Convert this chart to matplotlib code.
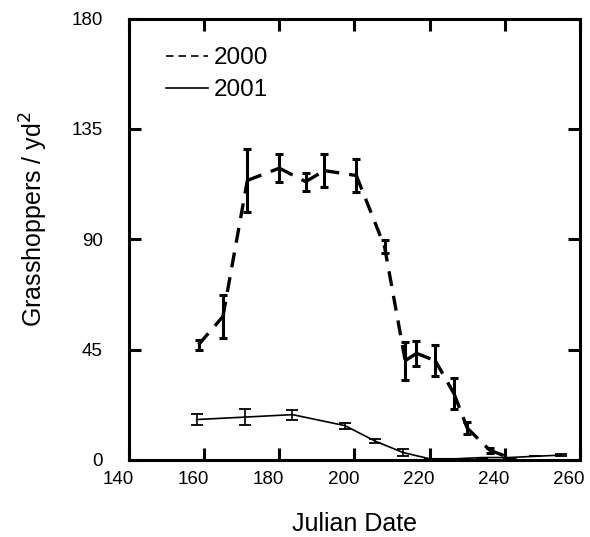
import matplotlib
matplotlib.use("Agg")
import matplotlib.pyplot as plt
import matplotlib.transforms as mtransforms
from matplotlib.lines import Line2D

plt.rcParams['font.family'] = ['Liberation Sans', 'DejaVu Sans']

# 2000 season (dashed, heavy)
days_2000 = [158.5, 165, 171.5, 180, 187, 192, 200.5, 208, 213.5, 216.5, 221.5, 226.5, 230, 236, 242]
hoppers_2000 = [47, 58.5, 114, 119, 113.5, 118, 116, 87, 40.5, 43.5, 40.5, 27, 13, 4, 0.5]
err_2000 = [2, 8.8, 13, 5.7, 3.7, 6.8, 6.8, 2.7, 7.8, 5.1, 6.4, 6.4, 2.5, 1, 0]

# 2001 season (solid, thin)
days_2001 = [158, 171, 183.5, 197.5, 205.5, 213, 220, 227, 234, 241, 248, 255]
hoppers_2001 = [16.5, 17.5, 18.5, 14, 7.7, 3, 0.5, 0.5, 1, 1, 1.5, 2]
err_2001 = [2.1, 3.1, 2.0, 1.2, 0.8, 1.5, 0, 0, 0, 0, 0, 0.5]

x_ticks = [140, 160, 180, 200, 220, 240, 260]
y_ticks = [0, 45, 90, 135, 180]

fig = plt.figure(figsize=(5.9, 5.37), dpi=100)
ax = fig.add_axes([0.2186, 0.1434, 0.7644, 0.822])

# dash pattern restarts on every segment, like the original plotting program
dash = (0, (4.5, 3))
for i in range(len(days_2000) - 1):
    ax.plot(days_2000[i:i + 2], hoppers_2000[i:i + 2], color='black', lw=2.4,
            linestyle=dash, solid_capstyle='butt', dash_capstyle='butt')
ax.errorbar(days_2000, hoppers_2000, yerr=err_2000, fmt='none', ecolor='black',
            elinewidth=2.2, capsize=3.2, capthick=2.2)

ax.plot(days_2001, hoppers_2001, color='black', lw=1.2)
ax.errorbar(days_2001, hoppers_2001, yerr=err_2001, fmt='none', ecolor='black',
            elinewidth=1.2, capsize=4.5, capthick=1.3)

ax.set_xlim(140, 260)
ax.set_ylim(0, 180)
ax.set_xticks(x_ticks)
ax.set_yticks(y_ticks)

for side in ['left', 'right', 'top', 'bottom']:
    ax.spines[side].set_linewidth(2.2)

ax.tick_params(direction='in', length=8.5, width=2.2, top=True, right=True,
               labelsize=13.5)
ax.tick_params(axis='x', pad=8)
ax.tick_params(axis='y', pad=19)

# labels in the original sit a little left of their ticks
offset = mtransforms.ScaledTranslation(-11 / 100, 0, fig.dpi_scale_trans)
for label in ax.get_xticklabels():
    label.set_transform(label.get_transform() + offset)

ax.set_xlabel("Julian Date", fontsize=18, labelpad=17)
ax.set_ylabel("Grasshoppers / yd$^2$", fontsize=18)
ax.yaxis.set_label_coords(-0.175, 0.545)

handles = [
    Line2D([], [], color='black', lw=1.2, linestyle=(0, (4.5, 3))),
    Line2D([], [], color='black', lw=1.2),
]
ax.legend(handles, ['2000', '2001'], loc='upper left', bbox_to_anchor=(0.083, 0.935),
          frameon=False, fontsize=17.5, handlelength=1.7, handletextpad=0.25,
          labelspacing=0.4, borderpad=0, borderaxespad=0)

fig.savefig("out.png", dpi=100)
